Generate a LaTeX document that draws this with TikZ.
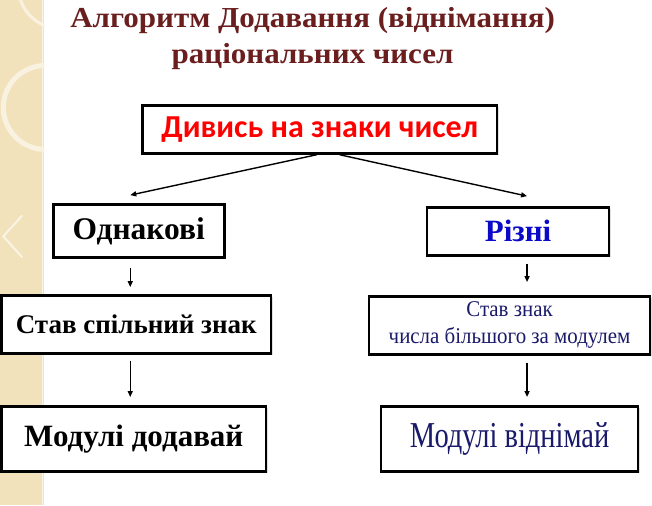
\documentclass[tikz,border=0pt]{standalone}
\usepackage{fontspec}
\setmainfont{Liberation Serif}
\newfontfamily\calfont{Carlito}
\newfontfamily\titlefont[FakeStretch=1.07]{Liberation Serif}
\newfontfamily\signfont[FakeStretch=0.93]{Liberation Serif}
\newfontfamily\narrowfont[FakeStretch=0.78]{Liberation Serif}
\usetikzlibrary{arrows.meta,shadows}

\definecolor{titlered}{HTML}{6B1E1E}
\definecolor{signred}{HTML}{FF0000}
\definecolor{diffblue}{HTML}{0A0AC8}
\definecolor{navy}{HTML}{1A1A6A}
\definecolor{strip}{HTML}{F1E2BC}

\begin{document}
\begin{tikzpicture}[x=1pt,y=-1pt,
  rule/.style={draw,line width=2.6pt,fill=white,inner sep=0pt,align=center,
    drop shadow={shadow xshift=1.5pt,shadow yshift=-1.5pt,opacity=0.25,fill=gray}},
  flow/.style={-{Triangle[length=6pt,width=5pt]},line width=1.4pt}
]
  % background and left strip
  \fill[white] (0,0) rectangle (652,505);
  \fill[strip] (0,0) rectangle (44,505);
  \draw[white!70!strip,line width=1pt] (42.5,0) -- (42.5,505);
  \begin{scope}
    \clip (0,0) rectangle (44,505);
    \draw[white!55!strip,line width=5pt] (45,107) circle (42);
    \draw[white!55!strip,line width=3pt] (60,-14) circle (42);
    \draw[white!60!strip,line width=2pt] (22,215) -- (3,236) -- (22,257);
  \end{scope}

  \node[font=\titlefont\bfseries\fontsize{29}{36}\selectfont,text=titlered,align=center]
    (title) at (312.5,38.5) {Алгоритм Додавання (віднімання)\\раціональних чисел};

  \node[rule,minimum width=355pt,minimum height=48pt,
    font=\calfont\bfseries\fontsize{32}{36}\selectfont,text=signred] (look) at (319.5,129) {Дивись на знаки чисел};

  \node[rule,minimum width=171pt,minimum height=53pt,
    font=\bfseries\fontsize{31.5}{34}\selectfont] (same) at (138.5,230.5) {Однакові};
  \node[rule,minimum width=182pt,minimum height=48pt,
    font=\bfseries\fontsize{31}{34}\selectfont,text=diffblue] (diff) at (518,231) {Різні};

  \node[rule,minimum width=270pt,minimum height=58pt,
    font=\bfseries\fontsize{27}{30}\selectfont] (common) at (136,324) {Став спільний знак};
  \node[rule,minimum width=281pt,minimum height=58pt,
    font=\signfont\fontsize{22.5}{27}\selectfont,text=navy] (bigger) at (509.5,325)
    {Став знак\\числа більшого за модулем};

  \node[rule,minimum width=265pt,minimum height=65pt,
    font=\bfseries\fontsize{31}{36}\selectfont] (add) at (133.5,438.5) {Модулі додавай};
  \node[rule,minimum width=257pt,minimum height=65pt,
    font=\narrowfont\fontsize{36.5}{40}\selectfont,text=navy] (sub) at (509.5,438.5) {Модулі віднімай};

  \coordinate (lx) at (130,0);
  \coordinate (rx) at (527,0);

  \draw[flow] ([xshift=-3pt]look.south) -- ([xshift=-8.5pt,yshift=8pt]same.north);
  \draw[flow] ([xshift=20pt]look.south) -- ([xshift=9pt,yshift=10pt]diff.north);
  \draw[flow,shorten <=9pt,shorten >=7pt] (same.south -| lx) -- (common.north -| lx);
  \draw[flow,shorten <=7pt,shorten >=13pt] (diff.south -| rx) -- (bigger.north -| rx);
  \draw[flow,shorten <=6pt,shorten >=8pt] (common.south -| lx) -- (add.north -| lx);
  \draw[flow,shorten <=7pt,shorten >=8pt] (bigger.south -| rx) -- (sub.north -| rx);
\end{tikzpicture}
\end{document}
